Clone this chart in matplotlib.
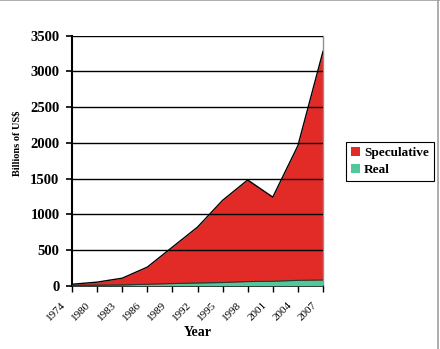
import matplotlib.pyplot as plt
import numpy as np
from matplotlib.lines import Line2D
from matplotlib.patches import Patch
from matplotlib.transforms import ScaledTranslation

years = ["1974", "1980", "1983", "1986", "1989", "1992", "1995", "1998", "2001", "2004", "2007"]
speculative = [20, 50, 105, 260, 540, 820, 1195, 1480, 1240, 1960, 3280]
real = [5, 8, 12, 20, 30, 38, 45, 58, 62, 75, 80]

RED = "#E22B27"
GREEN = "#4FC89B"
SERIF = "Liberation Serif"

plt.rcParams["font.family"] = SERIF

fig = plt.figure(figsize=(4.4, 3.49), dpi=100)
ax = fig.add_axes([72 / 440, 1 - 285.7 / 349, 251 / 440, 250 / 349])

x = np.arange(len(years))
ax.fill_between(x, 0, speculative, color=RED, lw=0, zorder=2)
ax.plot(x, speculative, color="black", lw=1.0, zorder=3)
ax.fill_between(x, 0, real, color=GREEN, lw=0, zorder=4)
ax.plot(x, real, color="#1f3a30", lw=0.8, zorder=5)

ax.set_xlim(0, len(years) - 1)
ax.set_ylim(0, 3500)
ax.set_xticks(x)
ax.set_xticklabels([])
ax.set_yticks(range(0, 3501, 500))
ax.set_yticklabels([str(v) for v in range(0, 3501, 500)], family=SERIF,
                   fontweight="bold", fontsize=10.5)

# year labels sit diagonally, a little left of and below each tick
shift = ScaledTranslation(-11 / 100, -15 / 100, fig.dpi_scale_trans)
for xi, yr in zip(x, years):
    ax.text(xi, 0, yr, rotation=45, rotation_mode="anchor", ha="right", va="top",
            family=SERIF, fontsize=8, transform=ax.get_xaxis_transform() + shift,
            clip_on=False)

ax.grid(axis="y", color="black", lw=1.0, zorder=1)
ax.tick_params(axis="y", length=4, width=1.2, pad=5)
ax.tick_params(axis="x", length=4, width=1.0, pad=2)
ax.spines["left"].set_linewidth(1.5)
ax.spines["bottom"].set_linewidth(1.2)
ax.spines["top"].set_visible(False)
ax.spines["right"].set_color("#909090")
ax.spines["right"].set_linewidth(1.0)
ax.set_axisbelow(False)

fig.text(17 / 440, 1 - 143 / 349, "Billions of US$", rotation=90, ha="center", va="center",
         family=SERIF, fontsize=7.5, fontweight="bold")
fig.text(198 / 440, 1 - 333 / 349, "Year", ha="center", va="center",
         family=SERIF, fontsize=10, fontweight="bold")

handles = [Patch(facecolor=RED, edgecolor="none", label="Speculative"),
           Patch(facecolor=GREEN, edgecolor="none", label="Real")]
leg = fig.legend(handles=handles, loc="center", bbox_to_anchor=(390 / 440, 1 - 161.5 / 349),
                 frameon=True, fancybox=False, edgecolor="black", framealpha=1,
                 prop={"family": SERIF, "weight": "bold", "size": 9.5}, handlelength=0.7,
                 handleheight=0.7, handletextpad=0.3, borderpad=0.35, labelspacing=0.4,
                 borderaxespad=0)
leg.get_frame().set_linewidth(0.8)

# outer frame edges
fig.add_artist(Line2D([0, 1], [0.999, 0.999], color="#a0a0a0", lw=1.2, transform=fig.transFigure))
fig.add_artist(Line2D([437.5 / 440, 437.5 / 440], [0, 1], color="#a0a0a0", lw=1.2,
                      transform=fig.transFigure))

fig.savefig("out.png", dpi=100)
